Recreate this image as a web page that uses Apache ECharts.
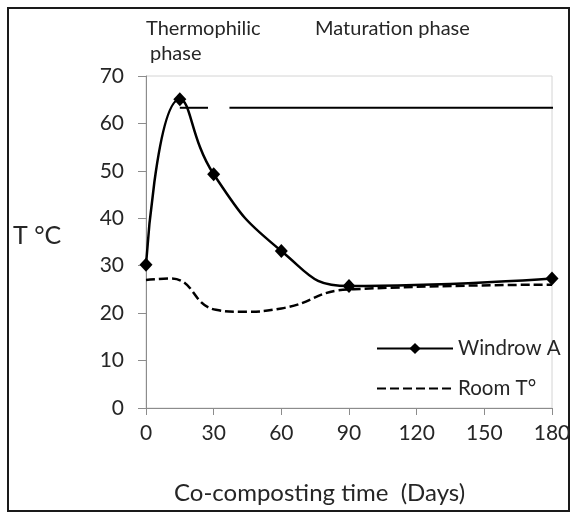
<!DOCTYPE html>
<html>
<head>
<meta charset="utf-8">
<script src="https://cdn.jsdelivr.net/npm/echarts@6/dist/echarts.min.js"></script>
<style>
  html, body { margin: 0; padding: 0; background: #fff; }
  #chart { width: 574px; height: 517px; }
</style>
</head>
<body>
<div id="chart"></div>
<script>
// ---- data ----
var days = [0, 15, 30, 60, 90, 180];
var windrowA = [30.2, 65.1, 49.3, 33.1, 25.7, 27.3];
// room temperature curve has no markers: values read where its shape is visible
var roomDays = [0, 11, 31, 42, 60, 90, 180];
var roomT = [27, 27.3, 20.7, 20.3, 21, 25, 26];
var xTicks = [0, 30, 60, 90, 120, 150, 180];
var yTicks = [0, 10, 20, 30, 40, 50, 60, 70];
var phaseLineY = 63.3;
var phaseSeg1 = [15, 27.5];
var phaseSeg2 = [37, 181.3];
var seriesNames = ['Windrow A', 'Room T°'];

function pairs(xs, ys) { return xs.map(function (x, i) { return [x, ys[i]]; }); }

var FONT = 'Lato, "Open Sans", sans-serif';
var TXT = '#262626';

var chart = echarts.init(document.getElementById('chart'), null, { renderer: 'canvas' });
chart.setOption({
  animation: false,
  backgroundColor: '#fff',
  grid: { left: 146, right: 22, top: 76, bottom: 109, show: true, borderColor: '#d4d4d4', borderWidth: 1, backgroundColor: 'transparent' },
  xAxis: {
    type: 'value', min: xTicks[0], max: xTicks[xTicks.length - 1], interval: 30,
    axisLine: { show: true, lineStyle: { color: '#8c8c8c', width: 1 } },
    axisTick: { show: true, inside: false, length: 7, lineStyle: { color: '#8c8c8c' } },
    axisLabel: { margin: 15, fontSize: 21, color: TXT, fontFamily: FONT },
    splitLine: { show: false }
  },
  yAxis: {
    type: 'value', min: yTicks[0], max: yTicks[yTicks.length - 1], interval: 10,
    axisLine: { show: true, lineStyle: { color: '#8c8c8c', width: 1 } },
    axisTick: { show: true, inside: false, length: 8, lineStyle: { color: '#8c8c8c' } },
    axisLabel: { margin: 22, fontSize: 21, color: TXT, fontFamily: FONT },
    splitLine: { show: false }
  },
  legend: {
    orient: 'vertical', left: 371, top: 333, itemGap: 19,
    itemWidth: 76, itemHeight: 14,
    textStyle: { fontSize: 20.5, color: TXT, fontFamily: FONT },
    data: [
      { name: seriesNames[0] },
      { name: seriesNames[1], itemStyle: { color: 'rgba(0,0,0,0)', borderWidth: 0, opacity: 0 } }
    ]
  },
  series: [
    {
      name: seriesNames[0], type: 'line', smooth: 0.5,
      data: pairs(days, windrowA),
      symbol: 'diamond', symbolSize: [13, 14],
      lineStyle: { color: '#000', width: 2.5 },
      itemStyle: { color: '#000' },
      z: 5
    },
    {
      name: seriesNames[1], type: 'line', smooth: 0.5,
      data: pairs(roomDays, roomT),
      symbol: 'none',
      lineStyle: { color: '#000', width: 2.5, type: [9, 4] },
      itemStyle: { color: '#000' },
      z: 4
    },
    {
      type: 'line', data: [[phaseSeg1[0], phaseLineY], [phaseSeg1[1], phaseLineY]],
      symbol: 'none', clip: false, silent: true,
      lineStyle: { color: '#000', width: 2 }, z: 3
    },
    {
      type: 'line', data: [[phaseSeg2[0], phaseLineY], [phaseSeg2[1], phaseLineY]],
      symbol: 'none', clip: false, silent: true,
      lineStyle: { color: '#000', width: 2 }, z: 3
    }
  ],
  graphic: [
    { type: 'rect', shape: { x: 8, y: 8, width: 561, height: 503 }, style: { fill: 'none', stroke: '#1a1a1a', lineWidth: 2 }, silent: true },
    { type: 'text', left: 13, top: 223, style: { text: 'T °C', fontSize: 25, fill: TXT, fontFamily: FONT } },
    { type: 'text', left: 146, top: 19, style: { text: 'Thermophilic', fontSize: 20, fill: TXT, fontFamily: FONT } },
    { type: 'text', left: 150, top: 44, style: { text: 'phase', fontSize: 20, fill: TXT, fontFamily: FONT } },
    { type: 'text', left: 315, top: 19, style: { text: 'Maturation phase', fontSize: 20, fill: TXT, fontFamily: FONT } },
    { type: 'text', left: 174, top: 481, style: { text: 'Co-composting time  (Days)', fontSize: 24, fill: TXT, fontFamily: FONT } }
  ]
});
</script>
</body>
</html>
